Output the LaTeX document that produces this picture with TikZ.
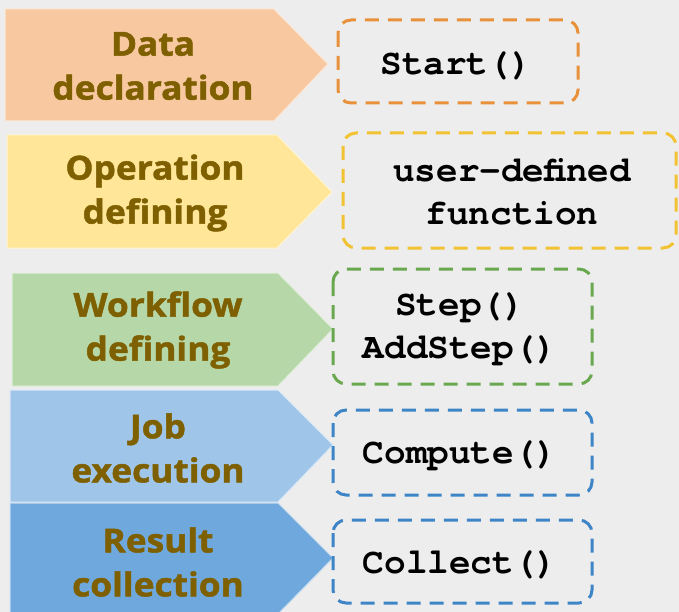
\documentclass[tikz,border=0pt]{standalone}
\usepackage{fontspec}
\setmainfont{Open Sans}
\setmonofont{TeX Gyre Cursor}
\newfontfamily\labfont[BoldFeatures={FakeBold=1.5,FakeStretch=1.07}]{Open Sans}
\begin{document}
\begin{tikzpicture}[x=1pt,y=-1pt,
  label/.style={font=\labfont\fontsize{33}{44}\selectfont\bfseries, text=labtext, align=center},
  code/.style={font=\fontsize{36}{43}\selectfont\ttfamily\bfseries, text=black, align=center},
  dbox/.style={draw, line width=3pt, dash pattern=on 14pt off 9pt, rounded corners=13pt},
  arrowshape/.style={draw=white!60!#1, line width=1pt, fill=#1}]
\definecolor{labtext}{HTML}{7F6000}
\definecolor{bgc}{HTML}{EDEDED}
\definecolor{orfill}{HTML}{F8C9A0}
\definecolor{ordraw}{HTML}{E8913A}
\definecolor{yefill}{HTML}{FFE699}
\definecolor{yedraw}{HTML}{F1C232}
\definecolor{grfill}{HTML}{B6D7A8}
\definecolor{grdraw}{HTML}{6AA84F}
\definecolor{lbfill}{HTML}{9FC5E8}
\definecolor{dbfill}{HTML}{6FA8DC}
\definecolor{bldraw}{HTML}{3D85C6}
\useasboundingbox (0,0) rectangle (679,612);
\fill[bgc] (0,0) rectangle (679,612);
\begin{scope}
\clip (0,0) rectangle (679,612);
% pentagons
\path[arrowshape=orfill] (5,9) -- (274,9) -- (328,64) -- (274,121) -- (5,121) -- cycle;
\path[arrowshape=yefill] (7,135) -- (277,135) -- (332,192) -- (277,248) -- (7,248) -- cycle;
\path[arrowshape=grfill] (12,273) -- (278,273) -- (333,329) -- (278,386) -- (12,386) -- cycle;
\path[arrowshape=lbfill] (10,390) -- (278,390) -- (333,445) -- (278,502) -- (10,502) -- cycle;
\path[arrowshape=dbfill] (10,503) -- (278,503) -- (333,558) -- (278,614) -- (10,614) -- cycle;
\end{scope}
% labels
\node[label] (l1) at (153,66) {Data\\declaration};
\node[label] (l2) at (155,193) {Operation\\defining};
\node[label] (l3) at (158,330) {Workflow\\defining};
\node[label] (l4) at (158,448) {Job\\execution};
\node[label] (l5) at (158,562) {Result\\collection};
% dashed boxes
\draw[dbox, draw=ordraw] (338,20) rectangle (578,103);
\draw[dbox, draw=yedraw] (343,133) rectangle (676,248);
\draw[dbox, draw=grdraw] (333,269) rectangle (592,384);
\draw[dbox, draw=bldraw] (333,410) rectangle (592,495);
\draw[dbox, draw=bldraw] (333,520) rectangle (592,603);
% code text
\node[code] (c1) at (456,66) {Start()};
\node[code] (c2) at (512,192) {user-defined\\function};
\node[code] (c3) at (460,329) {Step()\\AddStep()};
\node[code] (c4) at (460,456) {Compute()};
\node[code] (c5) at (460,565) {Collect()};
\end{tikzpicture}
\end{document}
